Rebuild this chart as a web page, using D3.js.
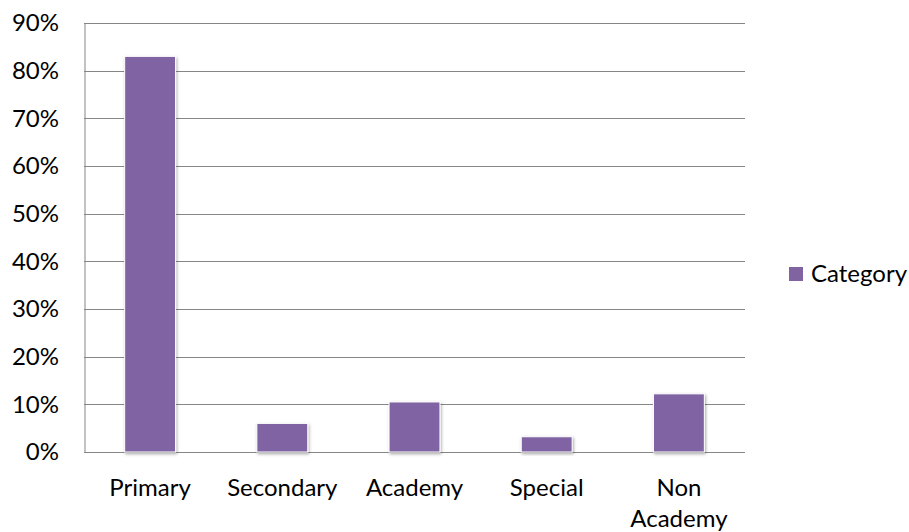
<!DOCTYPE html>
<html>
<head>
<meta charset="utf-8">
<script src="https://cdn.jsdelivr.net/npm/d3@7"></script>
<style>
  html, body { margin: 0; padding: 0; background: #fff; }
  svg { display: block; }
  text { font-family: Lato, "Open Sans", sans-serif; fill: #000; }
</style>
</head>
<body>
<svg id="chart" width="909" height="532"></svg>
<script>
// School categories and their share
const categories = ["Primary", "Secondary", "Academy", "Special", "Non Academy"];
const values = [0.83, 0.06, 0.105, 0.032, 0.122];
const yTicks = [0, 0.1, 0.2, 0.3, 0.4, 0.5, 0.6, 0.7, 0.8, 0.9];
const seriesName = "Category";

const W = 909, H = 532;
const margin = { left: 84, right: 164, top: 23, bottom: 80 };
const plotW = W - margin.left - margin.right;
const plotH = H - margin.top - margin.bottom;
const barColor = "#8064A2";
const gridColor = "#868686";
const fontSize = 24;

const svg = d3.select("#chart");

// soft drop shadow under the bars
const defs = svg.append("defs");
const f = defs.append("filter").attr("id", "shadow")
  .attr("x", "-20%").attr("y", "-20%").attr("width", "140%").attr("height", "140%");
f.append("feDropShadow").attr("dx", 1).attr("dy", 1.5).attr("stdDeviation", 1.5)
  .attr("flood-color", "#000").attr("flood-opacity", 0.35);

const g = svg.append("g").attr("transform", `translate(${margin.left},${margin.top})`);

const x = d3.scaleBand().domain(categories).range([0, plotW])
  .paddingInner(0.615).paddingOuter(0.3075);
const y = d3.scaleLinear().domain([0, 0.9]).range([plotH, 0]);

// horizontal gridlines
g.append("g").selectAll("line").data(yTicks).join("line")
  .attr("x1", 0).attr("x2", plotW)
  .attr("y1", d => Math.round(y(d)) + 0.5).attr("y2", d => Math.round(y(d)) + 0.5)
  .attr("stroke", gridColor).attr("stroke-width", 1);

// y axis
const yAxis = g.append("g")
  .call(d3.axisLeft(y).tickValues(yTicks).tickFormat(d3.format(".0%")).tickSize(0).tickPadding(25));
yAxis.select(".domain").attr("stroke", gridColor).attr("transform", "translate(0.5,0)");
yAxis.selectAll("text").attr("font-size", fontSize).attr("font-family", "Lato, 'Open Sans', sans-serif");

// bars
g.append("g").selectAll("rect").data(values).join("rect")
  .attr("x", (d, i) => x(categories[i]))
  .attr("width", x.bandwidth())
  .attr("y", d => y(d))
  .attr("height", d => plotH - y(d))
  .attr("fill", barColor)
  .attr("stroke", "#fff").attr("stroke-width", 1)
  .attr("filter", "url(#shadow)");

// x axis category labels (wrapped on spaces where needed)
const xAxis = g.append("g").attr("transform", `translate(0,${plotH})`)
  .call(d3.axisBottom(x).tickSize(0).tickPadding(0));
xAxis.select(".domain").remove();
xAxis.selectAll("text").each(function (d) {
  const t = d3.select(this);
  t.text(null).attr("font-size", fontSize).attr("font-family", "Lato, 'Open Sans', sans-serif")
    .attr("y", 0).attr("dy", null);
  const words = d === "Non Academy" ? ["Non", "Academy"] : [d];
  words.forEach((w, k) => {
    t.append("tspan").attr("x", 0).attr("y", 44 + k * 31).text(w);
  });
});

// legend
const leg = svg.append("g").attr("transform", `translate(789,267)`);
leg.append("rect").attr("width", 14).attr("height", 14).attr("fill", barColor);
leg.append("text").attr("x", 22).attr("y", 7).attr("dy", "0.35em")
  .attr("font-size", fontSize).text(seriesName);
</script>
</body>
</html>
